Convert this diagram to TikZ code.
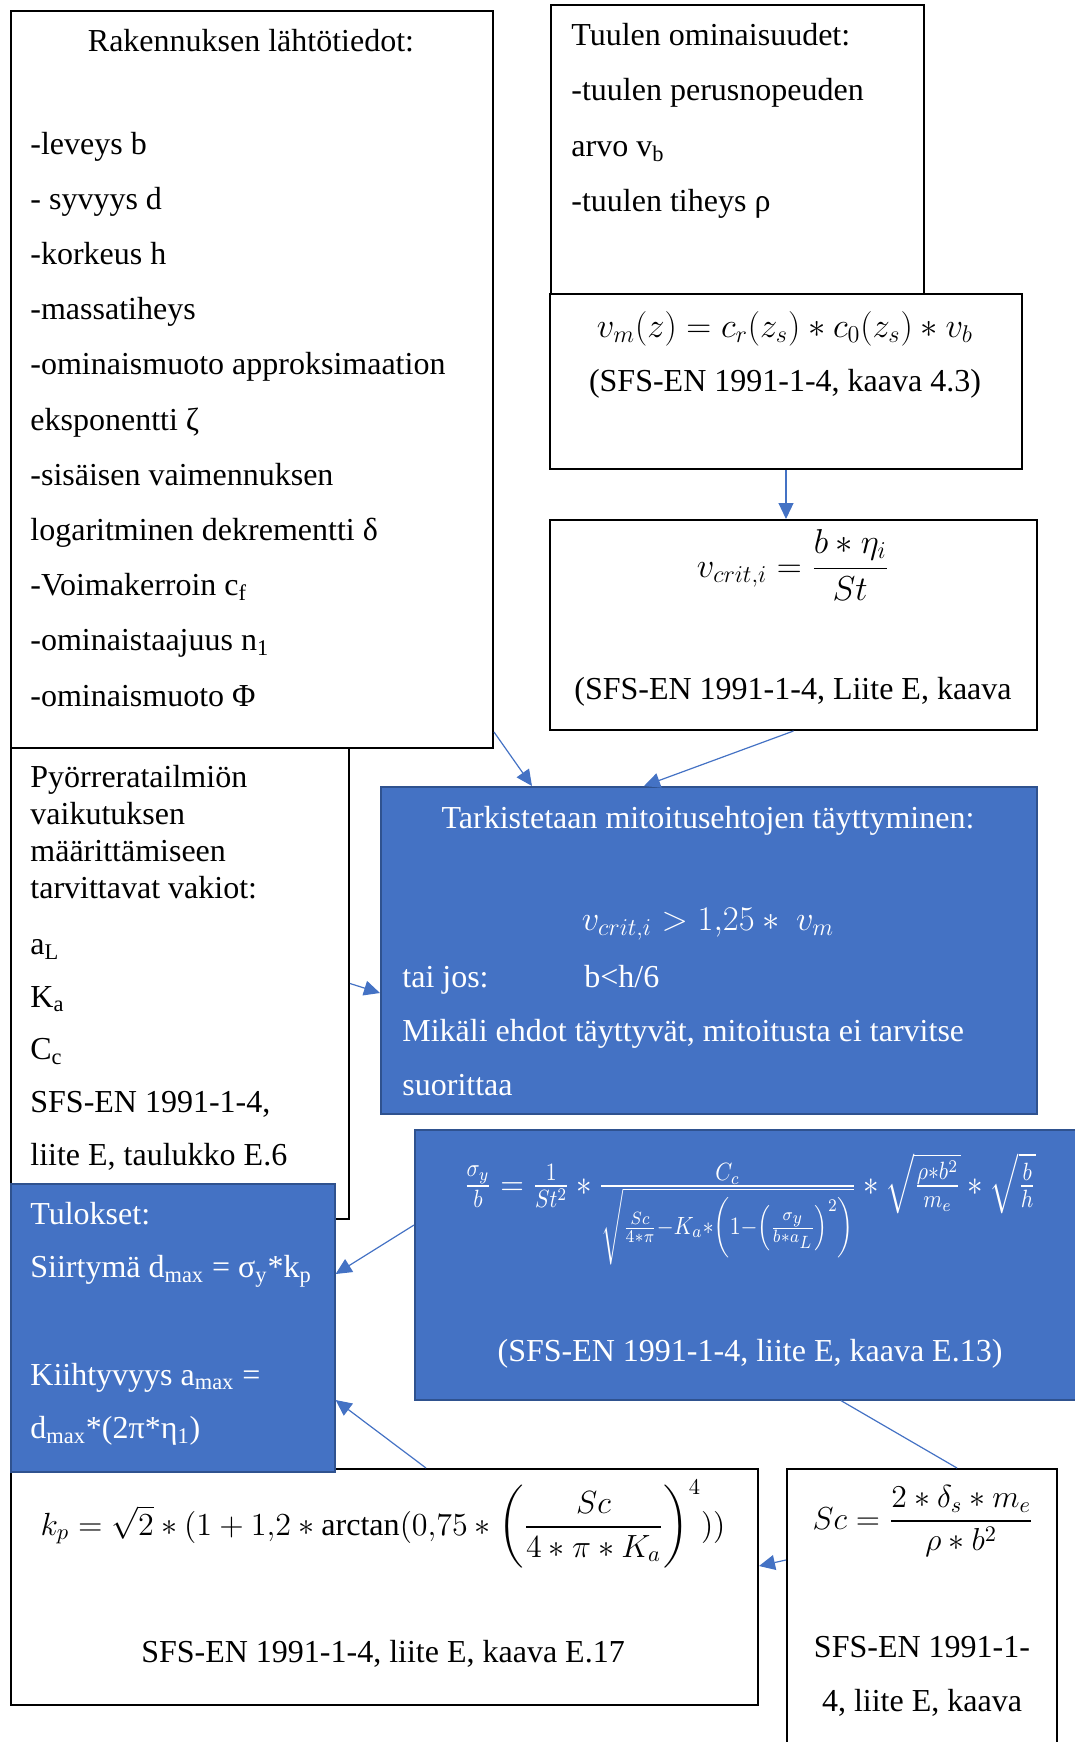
\RequirePackage{fix-cm}
\documentclass[tikz,border=0pt]{standalone}
\usepackage{amsmath}
\usepackage{fontspec}
\setmainfont{Liberation Serif}
\usetikzlibrary{arrows.meta}
\definecolor{boxblue}{HTML}{4472C4}
\definecolor{edgeblue}{HTML}{2F528F}

\begin{document}
\begin{tikzpicture}[x=0.5pt, y=-0.5pt,
    box/.style={draw, line width=1pt, fill=white, inner sep=0pt, anchor=north west},
    bluebox/.style={box, draw=edgeblue, line width=0.8pt, fill=boxblue},
    txt/.style={inner sep=0pt, font=\fontsize{16}{#1}\selectfont, align=left, anchor=north west},
    txt/.default=27.6,
    eq/.style={inner sep=0pt, font=\fontsize{#1}{20}\selectfont, anchor=base},
    eq/.default=17.3,
    conn/.style={draw=boxblue, line width=0.6pt, -{Triangle[length=8pt,width=7.5pt]}}]
  \useasboundingbox (0,0) rectangle (1075,1742);

  \node[box, minimum width=241pt, minimum height=368.5pt] (rak) at (10,10) {};
  \node[box, minimum width=169pt, minimum height=235.5pt] (pyorre) at (10,747) {};
  \node[box, minimum width=186.5pt, minimum height=145pt] (tuuli) at (550,4) {};
  \node[box, minimum width=236pt, minimum height=87.5pt] (vm) at (549,293) {};
  \node[box, minimum width=243.5pt, minimum height=105pt] (vcrit) at (549,519) {};
  \node[bluebox, minimum width=328pt, minimum height=163.5pt] (tark) at (380,786) {};
  \node[bluebox, minimum width=340pt, minimum height=135pt] (sigma) at (414,1129) {};
  \node[box, minimum width=373.5pt, minimum height=118pt] (kp) at (10,1468) {};
  \node[box, minimum width=135pt, minimum height=150pt] (sc) at (786,1468) {};
  \node[bluebox, minimum width=162pt, minimum height=144pt] (tulos) at (10,1183) {};

  \node[txt, anchor=base] (rak-otsikko) at (251,51) {Rakennuksen lähtötiedot:};
  \node[txt] (rak-lista) at (30,115) {\strut-leveys b\\- syvyys d\\-korkeus h\\-massatiheys\\-ominaismuoto approksimaation\\eksponentti ζ\\-sisäisen vaimennuksen\\logaritminen dekrementti δ\\-Voimakerroin c\textsubscript{f}\\-ominaistaajuus n\textsubscript{1}\\-ominaismuoto Φ};

  \node[txt=27.75] (tuuli-teksti) at (571,6) {\strut Tuulen ominaisuudet:\\-tuulen perusnopeuden\\arvo v\textsubscript{b}\\-tuulen tiheys ρ};

  \node[eq] (vm-kaava) at (785,337) {$v_m(z) = c_r(z_s) \ast c_0(z_s) \ast v_b$};
  \node[txt, anchor=base] (vm-viite) at (785,391) {(SFS-EN 1991-1-4, kaava 4.3)};

  \node[eq] (vcrit-kaava) at (793,577) {$v_{crit,i} = \dfrac{b \ast \eta_i}{St}$};
  \node[txt, anchor=base] (vcrit-viite) at (793,699) {(SFS-EN 1991-1-4, Liite E, kaava};

  \node[txt, anchor=base, text=white] (tark-otsikko) at (708,828) {Tarkistetaan mitoitusehtojen täyttyminen:};
  \node[eq, text=white] (tark-kaava) at (708,930) {$v_{crit,i} > 1{,}25 \ast\ v_m$};
  \node[txt=27, text=white] (tark-teksti) at (402,949) {\strut\makebox[91pt][l]{tai jos:}b<h/6\\Mikäli ehdot täyttyvät, mitoitusta ei tarvitse\\suorittaa};

  \node[txt=18.5] (pyorre-otsikko) at (30,761) {\strut Pyörreratailmiön\\vaikutuksen\\määrittämiseen\\tarvittavat vakiot:};
  \node[txt=26.4] (pyorre-lista) at (30,917) {\strut a\textsubscript{L}\\K\textsubscript{a}\\C\textsubscript{c}\\SFS-EN 1991-1-4,\\liite E, taulukko E.6};

  % kaava E.13, venytetty pystysuunnassa
  \node[eq=15.5, text=white] (sigma-kaava) at (750,1195) {\scalebox{1}[1.15]{$\frac{\sigma_y}{b}=\frac{1}{St^2}\ast\frac{C_c}{\sqrt{\frac{Sc}{4\ast\pi}-K_a\ast\left(1-\left(\frac{\sigma_y}{b\ast a_L}\right)^2\right)}}\ast\sqrt{\frac{\rho\ast b^2}{m_e}}\ast\sqrt{\frac{b}{h}}$}};
  \node[txt, anchor=base, text=white] (sigma-viite) at (750,1361) {(SFS-EN 1991-1-4, liite E, kaava E.13)};

  \node[txt=26.85, text=white] (tulos-teksti) at (30,1186) {\strut Tulokset:\\Siirtymä d\textsubscript{max} = σ\textsubscript{y}*k\textsubscript{p}\\\strut\\Kiihtyvyys a\textsubscript{max} =\\d\textsubscript{max}*(2π*η\textsubscript{1})};

  \node[eq=16.05] (kp-kaava) at (383,1535) {$k_p = \sqrt{2}\ast(1+1{,}2\ast\arctan(0{,}75\ast\left(\dfrac{Sc}{4\ast\pi\ast K_a}\right)^{4}))$};
  \node[txt, anchor=base] (kp-viite) at (383,1662) {SFS-EN 1991-1-4, liite E, kaava E.17};

  \node[eq=15.9] (sc-kaava) at (923,1529) {$Sc = \dfrac{2\ast\delta_s\ast m_e}{\rho\ast b^2}$};
  \node[txt=27, align=center, anchor=north] (sc-viite) at (922,1619) {\strut SFS-EN 1991-1-\\4, liite E, kaava};

  \draw[conn] (vm.south) -- (vm.south |- vcrit.north);
  \draw[conn] ([shift={(0,-17)}]rak.south east) -- ([shift={(152,0)}]tark.north west);
  \draw[conn] (vcrit.south) -- ([shift={(264,0)}]tark.north west);
  \draw[conn] (pyorre.east) -- ([shift={(0,207)}]tark.north west);
  \draw[conn] ([shift={(0,96)}]sigma.north west) -- ([shift={(0,91)}]tulos.north east);
  \draw[conn] ([shift={(416,0)}]kp.north west) -- ([shift={(0,217)}]tulos.north east);
  \draw[draw=boxblue, line width=0.6pt] ([shift={(427,0)}]sigma.south west) -- ([shift={(171,0)}]sc.north west);
  \draw[conn] ([shift={(0,92)}]sc.north west) -- ([shift={(0,98)}]kp.north east);
\end{tikzpicture}
\end{document}
